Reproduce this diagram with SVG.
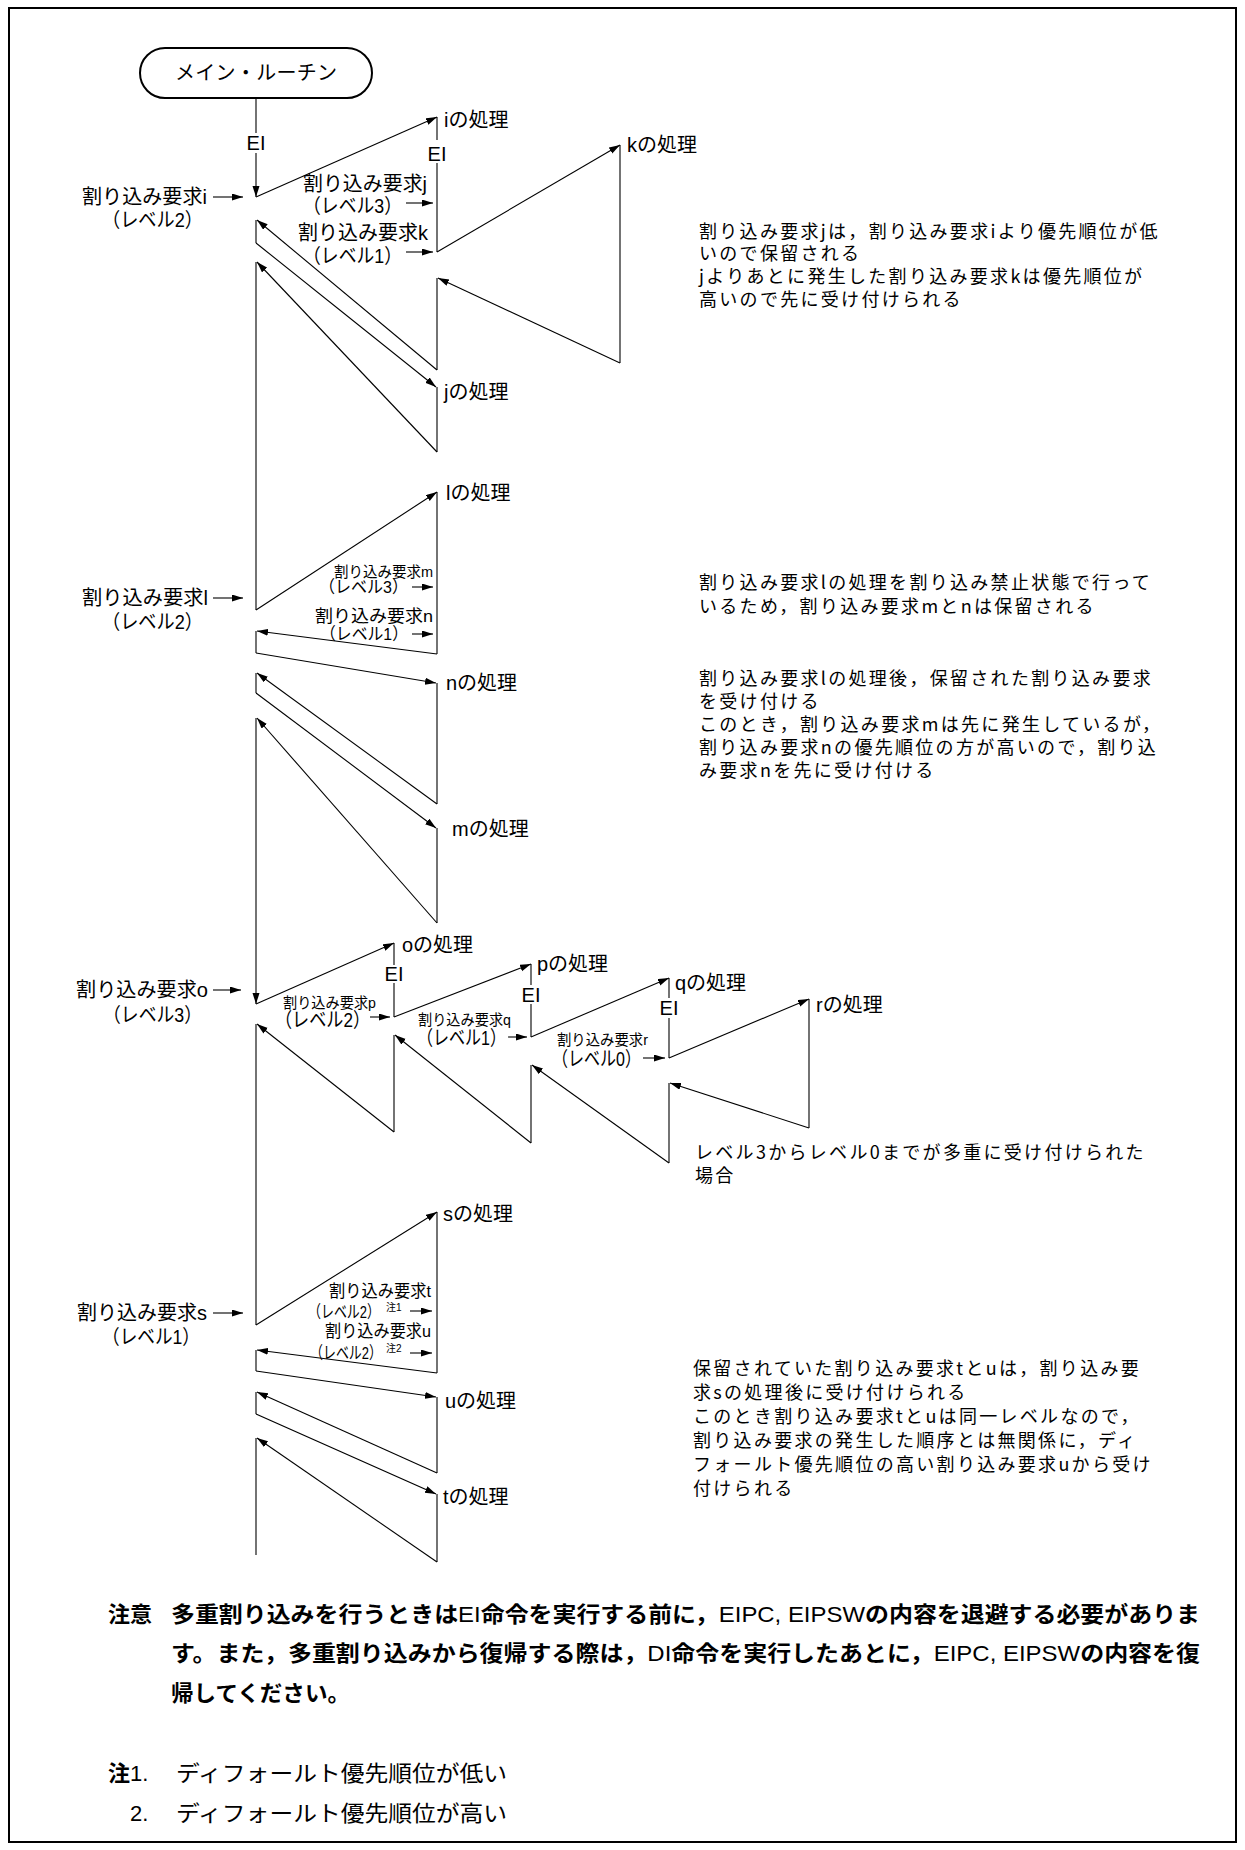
<svg xmlns="http://www.w3.org/2000/svg" width="1245" height="1850" viewBox="0 0 1245 1850">
<defs>
<marker id="ah" markerUnits="userSpaceOnUse" markerWidth="12" markerHeight="8" refX="11" refY="3.5" orient="auto">
<path d="M0,0 L11,3.5 L0,7 z" fill="#000"/>
</marker>
<style>
.ln{stroke:#000;stroke-width:1.1;fill:none}
.ar{stroke:#000;stroke-width:1.1;fill:none;marker-end:url(#ah)}
.t{font-family:"Liberation Sans","Noto Sans CJK JP",sans-serif;font-size:20px;fill:#000}
.ts{font-family:"Liberation Sans","Noto Sans CJK JP",sans-serif;font-size:15px;fill:#000}
.tm{font-family:"Liberation Sans","Noto Sans CJK JP",sans-serif;font-size:17px;fill:#000}
.tn{font-family:"Liberation Sans","Noto Sans CJK JP",sans-serif;font-size:10px;fill:#000}
.c{text-anchor:middle}
.d{font-family:"Noto Sans CJK JP",sans-serif;font-size:18px;letter-spacing:2.3px;fill:#000}
.b{font-family:"Liberation Sans","Noto Sans CJK JP",sans-serif;font-size:22px;font-weight:bold;fill:#000}
.r{font-weight:normal}
.n{font-family:"Liberation Sans","Noto Sans CJK JP",sans-serif;font-size:22px;fill:#000}
</style>
</defs>
<rect x="9" y="8" width="1227" height="1834" fill="#fff" stroke="#000" stroke-width="2"/>

<g id="connectors">
<line class="ln" x1="256" y1="98" x2="256" y2="133"/>
<line class="ar" x1="256" y1="153" x2="256" y2="197"/>
<line class="ar" x1="256" y1="197" x2="437" y2="117"/>
<line class="ln" x1="437" y1="117" x2="437" y2="140"/>
<line class="ln" x1="437" y1="163" x2="437" y2="252"/>
<line class="ar" x1="437" y1="252" x2="620" y2="145"/>
<line class="ln" x1="620" y1="145" x2="620" y2="363"/>
<line class="ar" x1="620" y1="363" x2="438" y2="278"/>
<line class="ln" x1="437" y1="278" x2="437" y2="370"/>
<line class="ar" x1="437" y1="370" x2="257" y2="220"/>
<line class="ln" x1="256" y1="220" x2="256" y2="243"/>
<line class="ar" x1="256" y1="243" x2="436" y2="387"/>
<line class="ln" x1="437" y1="387" x2="437" y2="452"/>
<line class="ar" x1="437" y1="452" x2="257" y2="262"/>
<line class="ln" x1="256" y1="262" x2="256" y2="610"/>
<line class="ar" x1="256" y1="610" x2="437" y2="492"/>
<line class="ln" x1="437" y1="492" x2="437" y2="654"/>
<line class="ar" x1="437" y1="654" x2="257" y2="631"/>
<line class="ln" x1="256" y1="631" x2="256" y2="653"/>
<line class="ar" x1="256" y1="653" x2="436" y2="683"/>
<line class="ln" x1="437" y1="683" x2="437" y2="804"/>
<line class="ar" x1="437" y1="804" x2="257" y2="673"/>
<line class="ln" x1="256" y1="673" x2="256" y2="693"/>
<line class="ar" x1="256" y1="693" x2="436" y2="828"/>
<line class="ln" x1="437" y1="828" x2="437" y2="923"/>
<line class="ar" x1="437" y1="923" x2="257" y2="718"/>
<line class="ar" x1="256" y1="718" x2="256" y2="1004"/>
<line class="ar" x1="256" y1="1004" x2="394" y2="943"/>
<line class="ln" x1="394" y1="943" x2="394" y2="965"/>
<line class="ln" x1="394" y1="983" x2="394" y2="1017"/>
<line class="ar" x1="394" y1="1017" x2="531" y2="964"/>
<line class="ln" x1="531" y1="964" x2="531" y2="985"/>
<line class="ln" x1="531" y1="1004" x2="531" y2="1037"/>
<line class="ar" x1="531" y1="1037" x2="669" y2="978"/>
<line class="ln" x1="669" y1="978" x2="669" y2="998"/>
<line class="ln" x1="669" y1="1018" x2="669" y2="1058"/>
<line class="ar" x1="669" y1="1058" x2="809" y2="999"/>
<line class="ln" x1="809" y1="999" x2="809" y2="1128"/>
<line class="ar" x1="809" y1="1128" x2="670" y2="1083"/>
<line class="ln" x1="669" y1="1083" x2="669" y2="1163"/>
<line class="ar" x1="669" y1="1163" x2="532" y2="1065"/>
<line class="ln" x1="531" y1="1065" x2="531" y2="1143"/>
<line class="ar" x1="531" y1="1143" x2="395" y2="1035"/>
<line class="ln" x1="394" y1="1035" x2="394" y2="1132"/>
<line class="ar" x1="394" y1="1132" x2="257" y2="1024"/>
<line class="ln" x1="256" y1="1024" x2="256" y2="1325"/>
<line class="ar" x1="256" y1="1325" x2="437" y2="1212"/>
<line class="ln" x1="437" y1="1212" x2="437" y2="1373"/>
<line class="ar" x1="437" y1="1373" x2="257" y2="1350"/>
<line class="ln" x1="256" y1="1350" x2="256" y2="1371"/>
<line class="ar" x1="256" y1="1371" x2="436" y2="1397"/>
<line class="ln" x1="437" y1="1397" x2="437" y2="1473"/>
<line class="ar" x1="437" y1="1473" x2="257" y2="1392"/>
<line class="ln" x1="256" y1="1392" x2="256" y2="1414"/>
<line class="ar" x1="256" y1="1414" x2="436" y2="1494"/>
<line class="ln" x1="437" y1="1494" x2="437" y2="1562"/>
<line class="ar" x1="437" y1="1562" x2="257" y2="1438"/>
<line class="ln" x1="256" y1="1438" x2="256" y2="1555"/>
<line class="ar" x1="213" y1="197" x2="243" y2="197"/>
<line class="ar" x1="406" y1="203" x2="433" y2="203"/>
<line class="ar" x1="406" y1="252" x2="433" y2="252"/>
<line class="ar" x1="213" y1="598" x2="243" y2="598"/>
<line class="ar" x1="412" y1="587" x2="433" y2="587"/>
<line class="ar" x1="412" y1="634" x2="433" y2="634"/>
<line class="ar" x1="213" y1="990" x2="241" y2="990"/>
<line class="ar" x1="370" y1="1017" x2="390" y2="1017"/>
<line class="ar" x1="508" y1="1037" x2="527" y2="1037"/>
<line class="ar" x1="643" y1="1058" x2="665" y2="1058"/>
<line class="ar" x1="213" y1="1313" x2="243" y2="1313"/>
<line class="ar" x1="410" y1="1311" x2="432" y2="1311"/>
<line class="ar" x1="410" y1="1353" x2="432" y2="1353"/>
</g>

<g id="main-routine">
<rect x="140" y="48" width="232" height="50" rx="25" ry="25" fill="#fff" stroke="#000" stroke-width="2"/>
<text class="t" x="175" y="80" textLength="162" lengthAdjust="spacing">メイン・ルーチン</text>
<text class="t c" x="256" y="150">EI</text>
</g>

<g id="req-i">
<text class="t" x="82" y="204" textLength="125" lengthAdjust="spacingAndGlyphs">割り込み要求i</text>
<text class="t" x="102" y="227" textLength="101" lengthAdjust="spacingAndGlyphs">（レベル2）</text>
</g>
<g id="proc-i">
<text class="t" x="444" y="127">iの処理</text>
<text class="t c" x="437" y="161">EI</text>
</g>
<g id="req-j">
<text class="t" x="303" y="191" textLength="124" lengthAdjust="spacingAndGlyphs">割り込み要求j</text>
<text class="t" x="303" y="213" textLength="99" lengthAdjust="spacingAndGlyphs">（レベル3）</text>
</g>
<g id="req-k">
<text class="t" x="298" y="240" textLength="130" lengthAdjust="spacingAndGlyphs">割り込み要求k</text>
<text class="t" x="303" y="263" textLength="99" lengthAdjust="spacingAndGlyphs">（レベル1）</text>
</g>
<g id="proc-k"><text class="t" x="627" y="152">kの処理</text></g>
<g id="proc-j"><text class="t" x="444" y="399">jの処理</text></g>

<g id="req-l">
<text class="t" x="82" y="605" textLength="126" lengthAdjust="spacingAndGlyphs">割り込み要求l</text>
<text class="t" x="102" y="629" textLength="101" lengthAdjust="spacingAndGlyphs">（レベル2）</text>
</g>
<g id="proc-l"><text class="t" x="446" y="500">lの処理</text></g>
<g id="req-m">
<text class="ts" x="334" y="577" textLength="99" lengthAdjust="spacingAndGlyphs">割り込み要求m</text>
<text class="tm" x="319" y="593" textLength="89" lengthAdjust="spacingAndGlyphs">（レベル3）</text>
</g>
<g id="req-n">
<text class="tm" x="315" y="622" textLength="118" lengthAdjust="spacingAndGlyphs">割り込み要求n</text>
<text class="tm" x="320" y="640" textLength="88" lengthAdjust="spacingAndGlyphs">（レベル1）</text>
</g>
<g id="proc-n"><text class="t" x="446" y="690">nの処理</text></g>
<g id="proc-m"><text class="t" x="452" y="836">mの処理</text></g>

<g id="req-o">
<text class="t" x="76" y="997" textLength="132" lengthAdjust="spacingAndGlyphs">割り込み要求o</text>
<text class="t" x="103" y="1022" textLength="99" lengthAdjust="spacingAndGlyphs">（レベル3）</text>
</g>
<g id="proc-o">
<text class="t" x="402" y="952">oの処理</text>
<text class="t c" x="394" y="981">EI</text>
</g>
<g id="req-p">
<text class="ts" x="283" y="1008" textLength="93" lengthAdjust="spacingAndGlyphs">割り込み要求p</text>
<text class="t" x="275" y="1027" textLength="95" lengthAdjust="spacingAndGlyphs">（レベル2）</text>
</g>
<g id="proc-p">
<text class="t" x="537" y="971">pの処理</text>
<text class="t c" x="531" y="1002">EI</text>
</g>
<g id="req-q">
<text class="ts" x="418" y="1025" textLength="93" lengthAdjust="spacingAndGlyphs">割り込み要求q</text>
<text class="t" x="417" y="1045" textLength="89" lengthAdjust="spacingAndGlyphs">（レベル1）</text>
</g>
<g id="proc-q">
<text class="t" x="675" y="990">qの処理</text>
<text class="t c" x="669" y="1015">EI</text>
</g>
<g id="req-r">
<text class="ts" x="557" y="1045" textLength="91" lengthAdjust="spacingAndGlyphs">割り込み要求r</text>
<text class="t" x="552" y="1066" textLength="89" lengthAdjust="spacingAndGlyphs">（レベル0）</text>
</g>
<g id="proc-r"><text class="t" x="816" y="1012">rの処理</text></g>

<g id="req-s">
<text class="t" x="77" y="1320" textLength="130" lengthAdjust="spacingAndGlyphs">割り込み要求s</text>
<text class="t" x="102" y="1344" textLength="98" lengthAdjust="spacingAndGlyphs">（レベル1）</text>
</g>
<g id="proc-s"><text class="t" x="443" y="1221">sの処理</text></g>
<g id="req-t">
<text class="tm" x="329" y="1297" textLength="102" lengthAdjust="spacingAndGlyphs">割り込み要求t</text>
<text class="tm" x="308" y="1318" textLength="72" lengthAdjust="spacingAndGlyphs">（レベル2）</text>
<text class="tn" x="386" y="1311">注1</text>
</g>
<g id="req-u">
<text class="tm" x="325" y="1337" textLength="106" lengthAdjust="spacingAndGlyphs">割り込み要求u</text>
<text class="tm" x="310" y="1359" textLength="72" lengthAdjust="spacingAndGlyphs">（レベル2）</text>
<text class="tn" x="386" y="1352">注2</text>
</g>
<g id="proc-u"><text class="t" x="445" y="1408">uの処理</text></g>
<g id="proc-t"><text class="t" x="443" y="1504">tの処理</text></g>

<g id="note-jk">
<text class="d" x="699" y="238">割り込み要求jは，割り込み要求iより優先順位が低</text>
<text class="d" x="699" y="260">いので保留される</text>
<text class="d" x="699" y="283">jよりあとに発生した割り込み要求kは優先順位が</text>
<text class="d" x="699" y="306">高いので先に受け付けられる</text>
</g>
<g id="note-mn1">
<text class="d" x="699" y="589">割り込み要求lの処理を割り込み禁止状態で行って</text>
<text class="d" x="699" y="613">いるため，割り込み要求mとnは保留される</text>
</g>
<g id="note-mn2">
<text class="d" x="699" y="685">割り込み要求lの処理後，保留された割り込み要求</text>
<text class="d" x="699" y="708">を受け付ける</text>
<text class="d" x="699" y="731">このとき，割り込み要求mは先に発生しているが，</text>
<text class="d" x="699" y="754">割り込み要求nの優先順位の方が高いので，割り込</text>
<text class="d" x="699" y="777">み要求nを先に受け付ける</text>
</g>
<g id="note-multi">
<text class="d" x="695" y="1159">レベル3からレベル0までが多重に受け付けられた</text>
<text class="d" x="695" y="1182">場合</text>
</g>
<g id="note-tu">
<text class="d" x="693" y="1375">保留されていた割り込み要求tとuは，割り込み要</text>
<text class="d" x="693" y="1399">求sの処理後に受け付けられる</text>
<text class="d" x="693" y="1423">このとき割り込み要求tとuは同一レベルなので，</text>
<text class="d" x="693" y="1447">割り込み要求の発生した順序とは無関係に，ディ</text>
<text class="d" x="693" y="1471">フォールト優先順位の高い割り込み要求uから受け</text>
<text class="d" x="693" y="1495">付けられる</text>
</g>

<g id="caution">
<text class="b" x="108" y="1622">注意</text>
<text class="b" x="171" y="1622" textLength="1029" lengthAdjust="spacingAndGlyphs">多重割り込みを行うときは<tspan class="r">EI</tspan>命令を実行する前に，<tspan class="r">EIPC, EIPSW</tspan>の内容を退避する必要がありま</text>
<text class="b" x="171" y="1661" textLength="1029" lengthAdjust="spacingAndGlyphs">す。また，多重割り込みから復帰する際は，<tspan class="r">DI</tspan>命令を実行したあとに，<tspan class="r">EIPC, EIPSW</tspan>の内容を復</text>
<text class="b" x="171" y="1701" textLength="179" lengthAdjust="spacingAndGlyphs">帰してください。</text>
</g>
<g id="footnotes">
<text class="n" x="108" y="1781"><tspan font-weight="bold">注</tspan>1.</text>
<text class="n" x="176" y="1781" textLength="331" lengthAdjust="spacingAndGlyphs">ディフォールト優先順位が低い</text>
<text class="n" x="130" y="1821">2.</text>
<text class="n" x="176" y="1821" textLength="331" lengthAdjust="spacingAndGlyphs">ディフォールト優先順位が高い</text>
</g>
</svg>
